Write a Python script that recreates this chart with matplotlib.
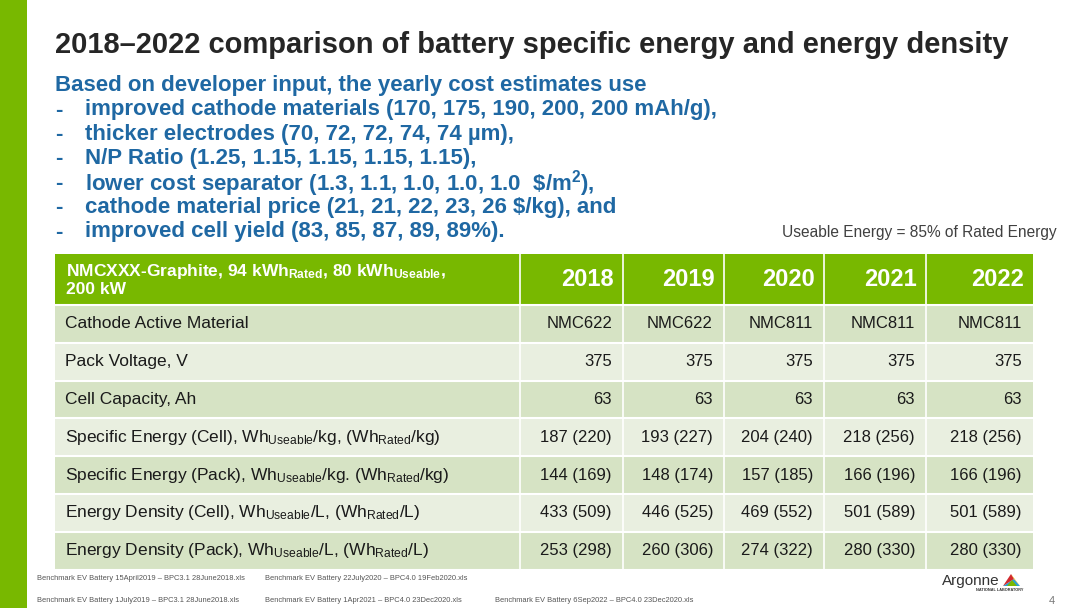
import matplotlib.pyplot as plt
from matplotlib.patches import Rectangle, Polygon

plt.rcParams["font.family"] = ["Liberation Sans", "DejaVu Sans"]
plt.rcParams["mathtext.default"] = "regular"

GREEN = "#78b800"
BLUE = "#1f68a3"
ROW_DARK = "#d6e3c4"
ROW_LIGHT = "#e9efe0"

title = "2018\u20132022 comparison of battery specific energy and energy density"
intro = "Based on developer input, the yearly cost estimates use"
bullets = [
    "improved cathode materials (170, 175, 190, 200, 200 mAh/g),",
    "thicker electrodes (70, 72, 72, 74, 74 \u00b5m),",
    "N/P Ratio (1.25, 1.15, 1.15, 1.15, 1.15),",
    r"lower cost separator (1.3, 1.1, 1.0, 1.0, 1.0  \$/m$^2$),",
    r"cathode material price (21, 21, 22, 23, 26 \$/kg), and",
    "improved cell yield (83, 85, 87, 89, 89%).",
]
note = "Useable Energy = 85% of Rated Energy"

header_label = "NMCXXX-Graphite, 94 kWh$_{Rated}$, 80 kWh$_{Useable}$,\n200 kW"
years = ["2018", "2019", "2020", "2021", "2022"]
row_labels = [
    "Cathode Active Material",
    "Pack Voltage, V",
    "Cell Capacity, Ah",
    "Specific Energy (Cell), Wh$_{Useable}$/kg, (Wh$_{Rated}$/kg)",
    "Specific Energy (Pack), Wh$_{Useable}$/kg. (Wh$_{Rated}$/kg)",
    "Energy Density (Cell), Wh$_{Useable}$/L, (Wh$_{Rated}$/L)",
    "Energy Density (Pack), Wh$_{Useable}$/L, (Wh$_{Rated}$/L)",
]
cathode = ["NMC622", "NMC622", "NMC811", "NMC811", "NMC811"]
pack_voltage = ["375", "375", "375", "375", "375"]
cell_capacity = ["63", "63", "63", "63", "63"]
spec_energy_cell = ["187 (220)", "193 (227)", "204 (240)", "218 (256)", "218 (256)"]
spec_energy_pack = ["144 (169)", "148 (174)", "157 (185)", "166 (196)", "166 (196)"]
energy_density_cell = ["433 (509)", "446 (525)", "469 (552)", "501 (589)", "501 (589)"]
energy_density_pack = ["253 (298)", "260 (306)", "274 (322)", "280 (330)", "280 (330)"]
table_rows = [cathode, pack_voltage, cell_capacity, spec_energy_cell,
              spec_energy_pack, energy_density_cell, energy_density_pack]

footer_notes = [
    ("Benchmark EV Battery 15April2019 \u2013 BPC3.1 28June2018.xls", 37, 578),
    ("Benchmark EV Battery 22July2020 \u2013 BPC4.0 19Feb2020.xls", 265, 578),
    ("Benchmark EV Battery 1July2019 \u2013 BPC3.1 28June2018.xls", 37, 600),
    ("Benchmark EV Battery 1Apr2021 \u2013 BPC4.0 23Dec2020.xls", 265, 600),
    ("Benchmark EV Battery 6Sep2022 \u2013 BPC4.0 23Dec2020.xls", 495, 600),
]

fig = plt.figure(figsize=(10.8, 6.08), dpi=100)
ax = fig.add_axes([0, 0, 1, 1])
ax.set_xlim(0, 1080)
ax.set_ylim(608, 0)
ax.axis("off")

# left accent bar
ax.add_patch(Rectangle((0, 0), 27, 608, color=GREEN, lw=0))

ax.text(55, 45, title, fontsize=21, fontweight="bold", color="#262626", va="center")

ax.text(55, 86, intro, fontsize=16, fontweight="bold", color=BLUE, va="center")
for i, b in enumerate(bullets):
    y = 110 + i * 24.4
    ax.text(55, y, "-", fontsize=16, fontweight="bold", color=BLUE, va="center")
    ax.text(85, y, b, fontsize=16, fontweight="bold", color=BLUE, va="center")

ax.text(1057, 232, note, fontsize=11.2, color="#404040", va="center", ha="right")

# table
col_edges = [55, 520, 623, 724, 824, 926, 1033]
header_top, header_bot = 254, 305
row_h = 37.8

ax.add_patch(Rectangle((col_edges[0], header_top), col_edges[-1] - col_edges[0],
                       header_bot - header_top, color=GREEN, lw=0))
ax.text(66, (header_top + header_bot) / 2, header_label, fontsize=12.5,
        fontweight="bold", color="white", va="center", linespacing=1.1)
for j, yr in enumerate(years):
    ax.text(col_edges[j + 2] - 9, (header_top + header_bot) / 2, yr, fontsize=17,
            fontweight="bold", color="white", va="center", ha="right")

for i, (lab, vals) in enumerate(zip(row_labels, table_rows)):
    top = header_bot + i * row_h
    fc = ROW_DARK if i % 2 == 0 else ROW_LIGHT
    ax.add_patch(Rectangle((col_edges[0], top), col_edges[-1] - col_edges[0], row_h,
                           color=fc, lw=0))
    ax.text(65, top + row_h / 2, lab, fontsize=12.5, color="#1a1a1a", va="center")
    for j, v in enumerate(vals):
        ax.text(col_edges[j + 2] - 11, top + row_h / 2, v, fontsize=12,
                color="#1a1a1a", va="center", ha="right")

table_bot = header_bot + len(table_rows) * row_h
for k in range(len(table_rows) + 1):
    y = header_bot + k * row_h
    ax.plot([col_edges[0], col_edges[-1]], [y, y], color="white", lw=1.5)
for x in col_edges[1:-1]:
    ax.plot([x, x], [header_top, table_bot], color="white", lw=1.2)

# footer
for txt, x, y in footer_notes:
    ax.text(x, y, txt, fontsize=5.4, color="#555555", va="center")

ax.text(1000, 581, "Argonne", fontsize=11, color="#333333", va="center", ha="right")
ax.text(1024, 590, "NATIONAL LABORATORY", fontsize=2.8, fontweight="bold",
        color="#333333", va="center", ha="right")
ax.add_patch(Polygon([[1003, 586], [1020, 586], [1014, 579]], color="#2a9fd6", lw=0))
ax.add_patch(Polygon([[1003, 586], [1011, 574], [1014, 579]], color="#d12a2e", lw=0))
ax.add_patch(Polygon([[1011, 574], [1020, 586], [1014, 579]], color="#f5b800", lw=0))
ax.add_patch(Polygon([[1007, 586], [1017, 586], [1012, 580]], color="#7ab800", lw=0))

ax.text(1055, 601, "4", fontsize=8, color="#777777", va="center", ha="right")

fig.savefig("out.png", dpi=100)
